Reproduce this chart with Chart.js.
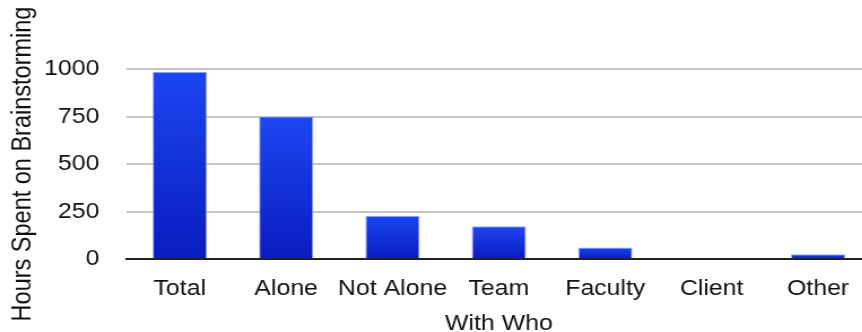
<!DOCTYPE html>
<html>
<head>
<title>Hours Spent on Brainstorming</title>
<script src="https://cdn.jsdelivr.net/npm/chart.js"></script>
<style>
  body { margin: 0; overflow: hidden; background: #fff; }
  #wrap {
    width: 771px;
    height: 332px;
    transform: scaleX(1.13);     /* wide, slightly stretched look */
    transform-origin: 0 0;
  }
</style>
</head>
<body>
<div id="wrap"><canvas id="myChart" width="771" height="332"></canvas></div>
<script>
// categories and hours
const categories = ['Total', 'Alone', 'Not Alone', 'Team', 'Faculty', 'Client', 'Other'];
const hours = [985, 750, 228, 172, 61, 0, 25];
const yTicks = [0, 250, 500, 750, 1000];

const font = 'Liberation Sans, Arial, Helvetica, sans-serif';

// each bar gets its own top-to-bottom blue gradient
function barFill(ctx) {
  const chart = ctx.chart;
  if (!chart.chartArea || ctx.raw == null) return '#1232e0';
  const y = chart.scales.y;
  const top = y.getPixelForValue(ctx.raw);
  const base = y.getPixelForValue(0);
  if (base - top < 1) return '#1232e0';
  const g = chart.ctx.createLinearGradient(0, top, 0, base);
  g.addColorStop(0, '#1c46f2');
  g.addColorStop(1, '#0a1cc0');
  return g;
}

new Chart(document.getElementById('myChart'), {
  type: 'bar',
  data: {
    labels: categories,
    datasets: [{
      label: 'Hours',
      data: hours,
      backgroundColor: barFill,
      borderColor: 'rgba(140,160,255,0.9)',
      borderWidth: 1,
      borderSkipped: 'bottom',
      barPercentage: 0.51,
      categoryPercentage: 1
    }]
  },
  options: {
    responsive: false,
    animation: false,
    devicePixelRatio: 1,
    layout: { padding: { top: 69, right: 0, bottom: 0, left: 0 } },
    plugins: {
      legend: { display: false },
      tooltip: { enabled: false }
    },
    scales: {
      x: {
        grid: { display: false },
        border: { display: true, color: '#222', width: 2 },
        ticks: { color: '#111', font: { family: font, size: 22 }, padding: 9, maxRotation: 0, autoSkip: false },
        title: {
          display: true,
          text: 'With Who',
          color: '#111',
          font: { family: font, size: 22 },
          padding: { top: 0, bottom: -5 }
        },
        afterFit(scale) { scale.height = 73; }
      },
      y: {
        min: 0,
        max: 1000,
        afterBuildTicks(scale) { scale.ticks = yTicks.map(v => ({ value: v })); },
        grid: {
          drawTicks: false,
          lineWidth: 2,
          color: c => c.tick && c.tick.value === 0 ? '#222' : '#c6c6c6'
        },
        border: { display: false },
        ticks: {
          color: '#111',
          font: { family: font, size: 22 },
          padding: 24,
          callback: v => String(v)
        },
        title: {
          display: true,
          text: 'Hours Spent on Brainstorming',
          color: '#111',
          font: { family: font, size: 23.5 },
          padding: { top: 6, bottom: 0 }
        },
        afterFit(scale) { scale.width = 112; }
      }
    }
  }
});
</script>
</body>
</html>
